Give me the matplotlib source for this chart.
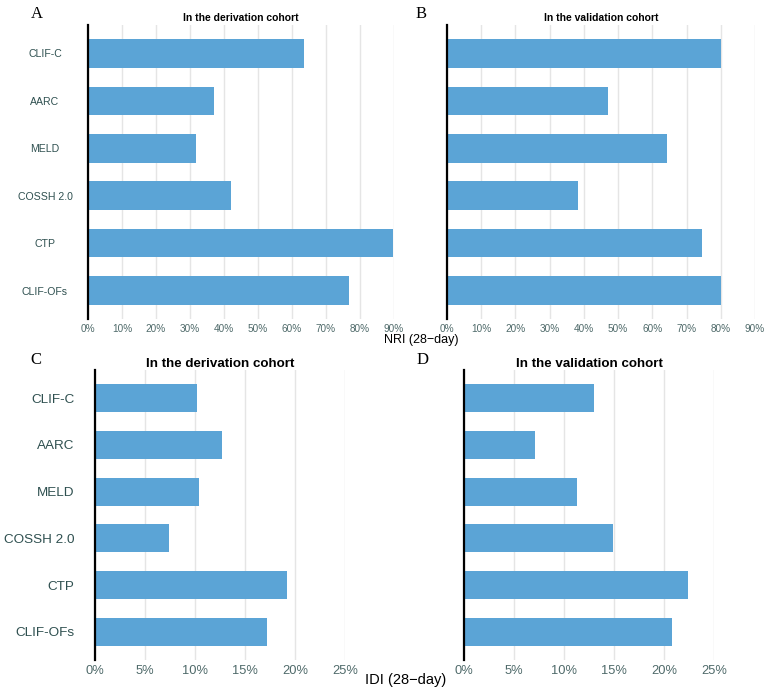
import matplotlib
matplotlib.use("agg")
import matplotlib.pyplot as plt
import numpy as np

models = ["CLIF-C", "AARC", "MELD", "COSSH 2.0", "CTP", "CLIF-OFs"]

nri_derivation = [0.634, 0.371, 0.319, 0.422, 0.898, 0.767]
nri_validation = [0.802, 0.469, 0.644, 0.382, 0.744, 0.802]
idi_derivation = [0.102, 0.127, 0.104, 0.074, 0.192, 0.172]
idi_validation = [0.130, 0.071, 0.113, 0.149, 0.224, 0.208]

nri_ticks = np.arange(0, 0.91, 0.1)
idi_ticks = np.arange(0, 0.251, 0.05)

bar_color = "#5ba4d6"
ylab_color = "#2f5050"
xlab_color = "#4f6a6a"

W, H = 767, 689
fig = plt.figure(figsize=(W / 100, H / 100), dpi=100)
plt.rcParams["font.family"] = ["Liberation Sans", "DejaVu Sans"]


def px_axes(left, top, right, bottom):
    return fig.add_axes([left / W, 1 - bottom / H, (right - left) / W, (bottom - top) / H])


def panel(ax, values, ticks, xmax, title, fs, show_y, yalign, ypad, tpad):
    y = np.arange(len(models))
    ax.barh(y, values, height=0.6, color=bar_color, zorder=2)
    ax.set_xlim(0, xmax)
    ax.set_ylim(len(models) - 0.4, -0.6)
    ax.set_xticks(ticks)
    ax.set_xticklabels([f"{int(round(t * 100))}%" for t in ticks], color=xlab_color, fontsize=fs)
    ax.grid(axis="x", color="#e5e5e5", lw=1.0, zorder=0)
    ax.grid(axis="y", visible=False)
    for s in ["top", "right", "bottom"]:
        ax.spines[s].set_visible(False)
    ax.spines["left"].set_color("black")
    ax.spines["left"].set_linewidth(1.6)
    ax.spines["left"].set_zorder(3)
    ax.tick_params(axis="x", length=0, pad=3.5)
    ax.tick_params(axis="y", length=0, pad=ypad)
    ax.set_yticks(np.arange(len(models)))
    if show_y:
        ax.set_yticklabels(models, color=ylab_color, fontsize=fs + 0.4)
        for lab in ax.get_yticklabels():
            lab.set_horizontalalignment(yalign)
    else:
        ax.set_yticklabels([])
    ax.set_title(title, fontsize=fs + 0.3, fontweight="bold", pad=tpad)
    ax.set_facecolor("white")


axA = px_axes(88, 25, 394, 319)
panel(axA, nri_derivation, nri_ticks, 0.9, "In the derivation cohort", 7.2, True, "center", 31, 3)
axB = px_axes(447, 25, 755, 319)
panel(axB, nri_validation, nri_ticks, 0.9, "In the validation cohort", 7.2, False, "right", 0, 3)
axC = px_axes(95, 370, 345, 660)
panel(axC, idi_derivation, idi_ticks, 0.25, "In the derivation cohort", 9.3, True, "right", 15, 2.5)
axD = px_axes(464, 370, 714, 660)
panel(axD, idi_validation, idi_ticks, 0.25, "In the validation cohort", 9.3, False, "right", 0, 2.5)

fig.text(421 / W, 1 - 340 / H, "NRI (28\u2212day)", ha="center", va="center", fontsize=9)
fig.text(406 / W, 1 - 680 / H, "IDI (28\u2212day)", ha="center", va="center", fontsize=10.5)

for letter, x, y in [("A", 37, 14), ("B", 421, 14), ("C", 36, 360), ("D", 423, 360)]:
    fig.text(x / W, 1 - y / H, letter, ha="center", va="center", fontsize=12,
             family="Liberation Serif")

fig.savefig("out.png", dpi=100)
